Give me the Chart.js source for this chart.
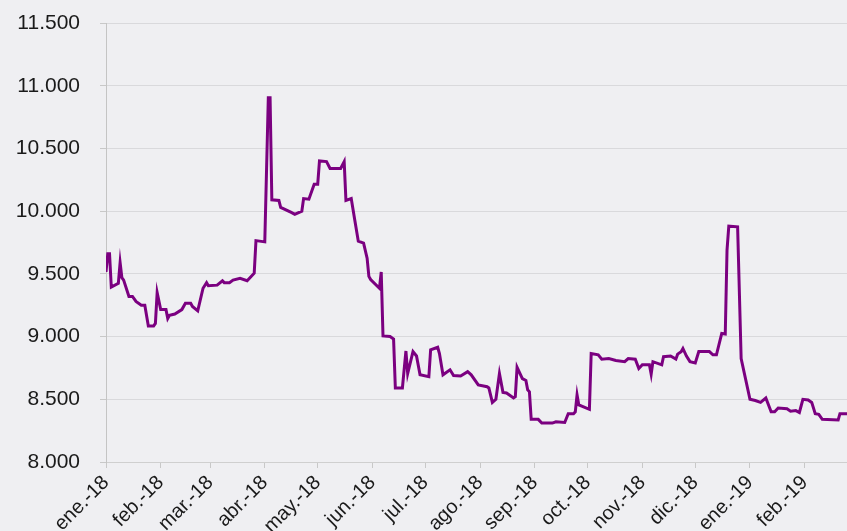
<!DOCTYPE html>
<html>
<head>
<meta charset="utf-8">
<script src="https://cdn.jsdelivr.net/npm/chart.js@4/dist/chart.umd.min.js"></script>
<style>
  html, body { margin: 0; padding: 0; background: #efeff2; }
  canvas { display: block; }
</style>
</head>
<body>
<canvas id="grafico" width="847" height="531"></canvas>
<script>
// dias contados desde el 1 de enero de 2018
const dias = [0, 1, 2, 3, 7, 8, 9, 10, 13, 15, 17, 20, 22, 24, 27, 28, 29, 31, 34, 35,
  36, 39, 43, 45, 48, 49, 52, 55, 57, 58, 63, 66, 67, 70, 72, 76, 80, 84, 85, 90,
  92, 93, 94, 98, 99, 105, 107, 111, 112, 115, 118, 120, 121, 125, 127, 133, 135, 136, 139, 141,
  143, 146, 148, 149, 150, 155, 156, 157, 161, 163, 164, 168, 170, 171, 174, 176, 178, 183, 184, 188,
  189, 191, 195, 197, 201, 205, 207, 211, 216, 217, 219, 221, 223, 225, 227, 231, 232, 233, 235, 236,
  238, 239, 240, 241, 245, 247, 253, 255, 260, 262, 265, 266, 267, 268, 274, 275, 279, 281, 285, 289,
  294, 296, 300, 302, 304, 308, 309, 310, 315, 316, 320, 323, 324, 326, 327, 329, 331, 334, 336, 342,
  344, 346, 349, 351, 352, 353, 358, 360, 365, 368, 371, 374, 377, 379, 381, 386, 388, 391, 393, 395,
  398, 400, 402, 404, 406, 415, 416, 420];

const valores = [9515, 9660, 9660, 9395, 9425, 9590, 9470, 9450, 9320, 9320, 9280, 9250, 9250, 9085, 9085, 9105, 9350, 9215, 9215, 9145,
  9170, 9180, 9215, 9265, 9265, 9240, 9205, 9385, 9430, 9405, 9410, 9445, 9430, 9430, 9450, 9465, 9445, 9505, 9765, 9755,
  10905, 10905, 10090, 10085, 10030, 9990, 9975, 10000, 10100, 10095, 10215, 10215, 10400, 10395, 10340, 10340, 10395, 10085, 10100, 9930,
  9760, 9745, 9625, 9480, 9455, 9385, 9515, 9005, 9000, 8980, 8590, 8590, 8885, 8705, 8880, 8845, 8695, 8680, 8895, 8915,
  8865, 8695, 8735, 8690, 8685, 8720, 8695, 8615, 8600, 8590, 8475, 8500, 8705, 8555, 8550, 8510, 8520, 8755, 8695, 8665,
  8650, 8575, 8560, 8340, 8340, 8310, 8310, 8320, 8315, 8385, 8385, 8400, 8535, 8455, 8420, 8865, 8855, 8820, 8825, 8810,
  8800, 8825, 8820, 8745, 8775, 8775, 8700, 8800, 8775, 8840, 8845, 8820, 8860, 8880, 8905, 8845, 8800, 8790, 8880, 8880,
  8855, 8855, 9025, 9020, 9690, 9880, 9875, 8825, 8500, 8490, 8475, 8510, 8400, 8400, 8430, 8425, 8405, 8410, 8395, 8500,
  8495, 8475, 8385, 8380, 8340, 8335, 8385, 8385];

// inicio de cada mes y su etiqueta
const inicioMes = [0, 31, 59, 90, 120, 151, 181, 212, 243, 273, 304, 334, 365, 396];
const etiquetasMes = ['ene.-18', 'feb.-18', 'mar.-18', 'abr.-18', 'may.-18', 'jun.-18', 'jul.-18',
  'ago.-18', 'sep.-18', 'oct.-18', 'nov.-18', 'dic.-18', 'ene.-19', 'feb.-19'];

const puntos = dias.map((d, i) => ({ x: d, y: valores[i] }));

function miles(v) {
  return String(v).replace(/\B(?=(\d{3})+(?!\d))/g, '.');
}

const ctx = document.getElementById('grafico').getContext('2d');

const grafico = new Chart(ctx, {
  type: 'line',
  data: {
    datasets: [{
      data: puntos,
      borderColor: '#7b0080',
      borderWidth: 3,
      pointRadius: 0,
      tension: 0,
      fill: false
    }]
  },
  options: {
    responsive: false,
    animation: false,
    devicePixelRatio: 1,
    layout: { padding: { top: 23, right: 0, left: 0, bottom: 0 } },
    plugins: {
      legend: { display: false },
      tooltip: { enabled: false }
    },
    scales: {
      x: {
        type: 'linear',
        min: 0,
        max: 420,
        afterBuildTicks: (scale) => {
          scale.ticks = inicioMes.map(v => ({ value: v }));
        },
        afterFit: (scale) => { scale.height = 69; },
        ticks: {
          autoSkip: false,
          minRotation: 45,
          maxRotation: 45,
          padding: 3,
          color: '#1a1a1a',
          font: { family: '"Liberation Sans", Arial, sans-serif', size: 20 },
          callback: (v) => {
            const i = inicioMes.indexOf(v);
            return i >= 0 ? etiquetasMes[i] : '';
          }
        },
        grid: {
          drawOnChartArea: false,
          drawTicks: true,
          tickLength: 6,
          color: '#c8c8c8'
        },
        border: { color: '#cfcfcf', width: 1 }
      },
      y: {
        min: 8000,
        max: 11500,
        afterFit: (scale) => {
          scale.width = 106;
          scale.paddingTop = 8;
          scale.paddingBottom = 8;
        },
        ticks: {
          stepSize: 500,
          padding: 20,
          color: '#1a1a1a',
          font: { family: '"Liberation Sans", Arial, sans-serif', size: 21 },
          callback: (v) => miles(v)
        },
        grid: {
          color: '#d9d9dc',
          tickLength: 6,
          tickColor: '#c8c8c8'
        },
        border: { color: '#c4c4c4', width: 1 }
      }
    }
  }
});
</script>
</body>
</html>
